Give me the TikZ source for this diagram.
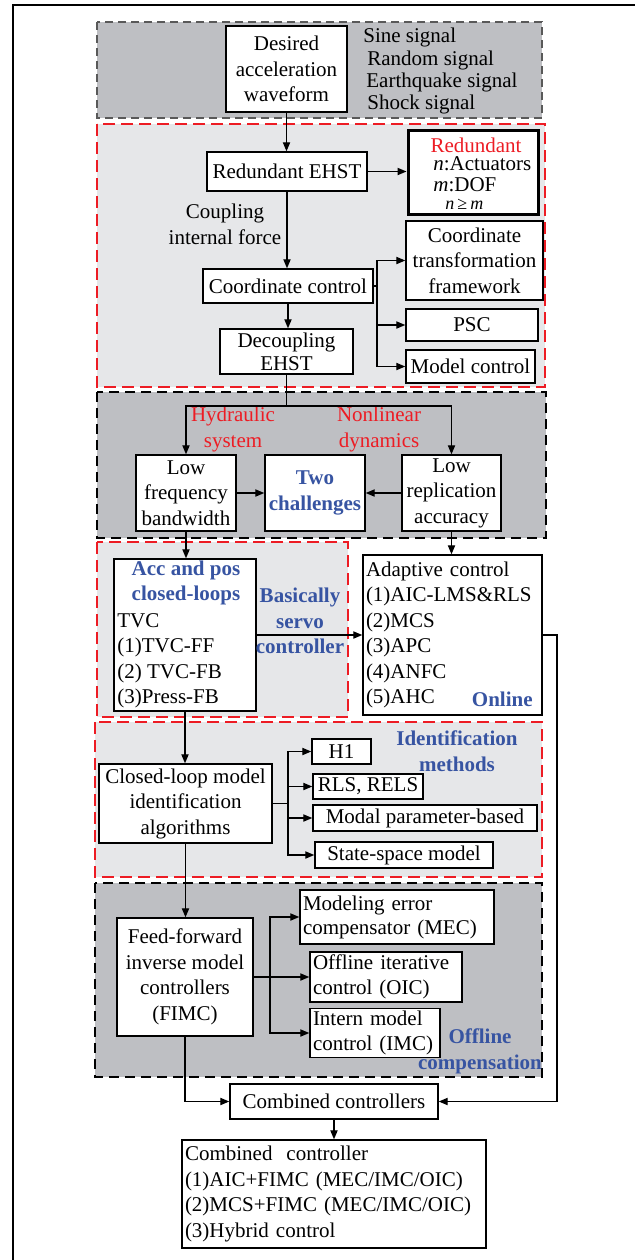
\documentclass[tikz,border=0pt]{standalone}
\usepackage{fontspec}
\setmainfont{Liberation Serif}
\usepackage{tikz}
\usetikzlibrary{arrows.meta}
\usepackage{xcolor}
\definecolor{zoneDark}{RGB}{190, 191, 195}
\definecolor{zoneLight}{RGB}{230, 231, 233}
\definecolor{dashRed}{RGB}{237, 28, 36}
\definecolor{titleBlue}{RGB}{55, 84, 162}

\begin{document}
\begin{tikzpicture}[x=0.5pt, y=-0.5pt, font=\fontsize{10.5}{12.75}\selectfont,
    box/.style={draw, fill=white, line width=0.7pt, inner sep=1pt, align=center},
    listbox/.style={box, align=left, inner xsep=1.5pt},
    flow/.style={line width=0.65pt, -{Triangle[length=4.5pt, width=3.6pt]}},
    link/.style={line width=0.65pt},
    darkzone/.style={fill=zoneDark, draw=black, line width=0.65pt, dash pattern=on 5pt off 3pt},
    greyzone/.style={fill=zoneDark, draw=black!65, line width=0.65pt, dash pattern=on 4pt off 2.5pt},
    redzone/.style={fill=zoneLight, draw=dashRed, line width=0.7pt, dash pattern=on 6pt off 3pt},
    hint/.style={font=\fontsize{10.5}{12.75}\selectfont\bfseries, text=titleBlue, align=center, inner sep=0pt},
    redhint/.style={text=dashRed, align=center, inner sep=0pt}]
  \useasboundingbox (0,0) rectangle (635,1260);
  % Frame
  \draw[line width=1pt] (13,1260) -- (13,5) -- (635,5);

  % Background zones
  \draw[greyzone] (97,22) rectangle (542,118);
  \draw[redzone] (97,124) rectangle (545,387);
  \draw[darkzone] (97,392) rectangle (546,538);
  \draw[redzone] (97,542) rectangle (348,717);
  \draw[redzone] (95,722) rectangle (542,877);
  \draw[darkzone] (95,883) rectangle (542,1077);

  % Input signal
  \node[box, minimum width=60.5pt, minimum height=43pt] (desired) at (286.5,69) {Desired\\acceleration\\waveform};
  \foreach \sig/\xpos/\ypos [count=\i] in {Sine signal/363/37, Random signal/367/60, Earthquake signal/366/82, Shock signal/367/104}
    \node[anchor=west, inner sep=0pt] (signal\i) at (\xpos,\ypos) {\sig};

  % Redundant EHST
  \node[box, minimum width=80pt, minimum height=19.5pt] (redEHST) at (287,171.5) {Redundant EHST};
  \node[box, line width=1.5pt, minimum width=65pt, minimum height=42pt] (redundant) at (473,172) {};
  \node[redhint] (redTitle) at (476,145) {Redundant};
  \node[anchor=west, inner sep=0pt] (nAct) at (433,164) {\textit{n}:Actuators};
  \node[anchor=west, inner sep=0pt] (mDof) at (433,185) {\textit{m}:DOF};
  \node[anchor=west, inner sep=0pt, font=\fontsize{9}{10}\selectfont] (nGeqM) at (445,204) {\textit{n}\,≥\,\textit{m}};
  \node[align=center, inner sep=0pt] (coupling) at (225,224.5) {Coupling\\internal force};
  \node[box, minimum width=85pt, minimum height=17pt] (coord) at (288,286) {Coordinate control};
  \node[box, inner ysep=0pt, font=\fontsize{10.5}{11.5}\selectfont, minimum width=66.5pt, minimum height=22.5pt] (decoupling) at (286.5,351.5) {Decoupling\\EHST};
  \node[box, minimum width=68.5pt, minimum height=39.5pt] (transform) at (474.5,260.5) {Coordinate\\transformation\\framework};
  \node[box, minimum width=66pt, minimum height=16pt] (psc) at (472,325) {PSC};
  \node[box, minimum width=64.5pt, minimum height=16.5pt] (model) at (470.5,366.5) {Model control};
  \coordinate (coordSplit) at (377,286);

  \draw[flow] (desired.south) -- (desired.south |- redEHST.north);
  \draw[flow] (redEHST.east) -- (redEHST.east -| redundant.west);
  \draw[flow] (redEHST.south) -- (redEHST.south |- coord.north);
  \draw[flow] (coord.south) -- (coord.south |- decoupling.north);
  \draw[link] (coord.east) -- (coordSplit);
  \draw[flow] (coordSplit) |- (transform.west);
  \draw[flow] (coordSplit) |- (psc.west);
  \draw[flow] (coordSplit) |- (model.west);

  % Two challenges
  \node[box, minimum width=50pt, minimum height=38pt] (lowFreq) at (186,493) {Low\\frequency\\bandwidth};
  \node[box, minimum width=50pt, minimum height=38pt, font=\fontsize{10.5}{12.75}\selectfont\bfseries, text=titleBlue] (challenges) at (315,493) {Two\\challenges};
  \node[box, minimum width=49.5pt, minimum height=38pt] (lowRep) at (451.5,493) {Low\\replication\\accuracy};
  \node[redhint] (hydraulic) at (233,429.5) {Hydraulic\\system};
  \node[redhint] (nonlinear) at (379,429.5) {Nonlinear\\dynamics};
  \coordinate (challengeSplit) at (286.5,406);

  \draw[link] (decoupling.south) -- (challengeSplit);
  \draw[flow] (challengeSplit) -| (lowFreq.north);
  \draw[flow] (challengeSplit) -| (lowRep.north);
  \draw[flow] (lowFreq.east) -- (lowFreq.east -| challenges.west);
  \draw[flow] (lowRep.west) -- (lowRep.west -| challenges.east);

  % Servo and adaptive control
  \node[box, minimum width=71pt, minimum height=76pt] (accBox) at (185,635) {};
  \node[hint] (accTitle) at (186,583) {Acc and pos\\closed-loops};
  \node[anchor=west, align=left, inner sep=0pt] (tvc) at (117,661) {TVC\\(1)TVC-FF\\(2) TVC-FB\\(3)Press-FB};
  \node[hint] (servo) at (300,621) {Basically\\servo\\controller};
  \node[listbox, text width=86.5pt, minimum height=80pt] (adaptive) at (452.5,635) {Adaptive control\\(1)AIC-LMS\&RLS\\(2)MCS\\(3)APC\\(4)ANFC\\(5)AHC};
  \node[hint, anchor=east] (online) at (533,699) {Online};

  \draw[flow] (lowFreq.south) -- (lowFreq.south |- accBox.north);
  \draw[flow] (lowRep.south) -- (lowRep.south |- adaptive.north);
  \draw[flow] (accBox.east) -- (accBox.east -| adaptive.west);

  % Identification
  \node[box, minimum width=86.5pt, minimum height=39.5pt] (closedLoop) at (185.5,803.5) {Closed-loop model\\identification\\algorithms};
  \node[box, minimum width=29.5pt, minimum height=12.5pt] (hOne) at (341.5,751.5) {H1};
  \node[box, minimum width=55pt, minimum height=12.5pt] (rls) at (368,786.5) {RLS, RELS};
  \node[box, minimum width=112pt, minimum height=13pt] (modal) at (425,818) {Modal parameter-based};
  \node[box, minimum width=89pt, minimum height=13pt] (stateSpace) at (404,855) {State-space model};
  \node[hint] (identTitle) at (457,751) {Identification\\methods};
  \coordinate (identSplit) at (288,803.5);

  \draw[flow] (accBox.south) -- (accBox.south |- closedLoop.north);
  \draw[link] (closedLoop.east) -- (identSplit);
  \draw[flow] (identSplit) |- (hOne.west);
  \draw[flow] (identSplit) |- (rls.west);
  \draw[flow] (identSplit) |- (modal.west);
  \draw[flow] (identSplit) |- (stateSpace.west);

  % Offline compensation
  \node[box, minimum width=68pt, minimum height=59pt] (fimc) at (185,977) {Feed-forward\\inverse model\\controllers\\(FIMC)};
  \node[listbox, text width=94pt, minimum height=27pt, font=\fontsize{10.5}{12}\selectfont] (mec) at (397,917) {Modeling error\\compensator (MEC)};
  \node[listbox, text width=73pt, minimum height=25pt] (oic) at (386,977) {Offline iterative\\control (OIC)};
  \node[listbox, text width=62pt, minimum height=24pt] (imc) at (375,1033) {Intern model\\control (IMC)};
  \node[hint] (offline) at (480,1051.5) {Offline\\compensation};
  \coordinate (offSplit) at (270,977);

  \draw[flow] (closedLoop.south) -- (closedLoop.south |- fimc.north);
  \draw[link] (fimc.east) -- (offSplit);
  \draw[flow] (offSplit) |- (mec.west);
  \draw[flow] (offSplit) |- (oic.west);
  \draw[flow] (offSplit) |- (imc.west);

  % Combined controllers
  \node[box, minimum width=104pt, minimum height=17.5pt] (combined) at (334,1101.5) {Combined controllers};
  \node[listbox, text width=149pt, minimum height=54pt] (final) at (334,1194) {Combined\ \ controller\\(1)AIC+FIMC (MEC/IMC/OIC)\\(2)MCS+FIMC (MEC/IMC/OIC)\\(3)Hybrid control};
  \coordinate (adaptTurn) at (557,635);

  \draw[flow] (fimc.south) |- (combined.west);
  \draw[flow] (adaptive.east) -- (adaptTurn) |- (combined.east);
  \draw[flow] (combined.south) -- (combined.south |- final.north);
\end{tikzpicture}
\end{document}
